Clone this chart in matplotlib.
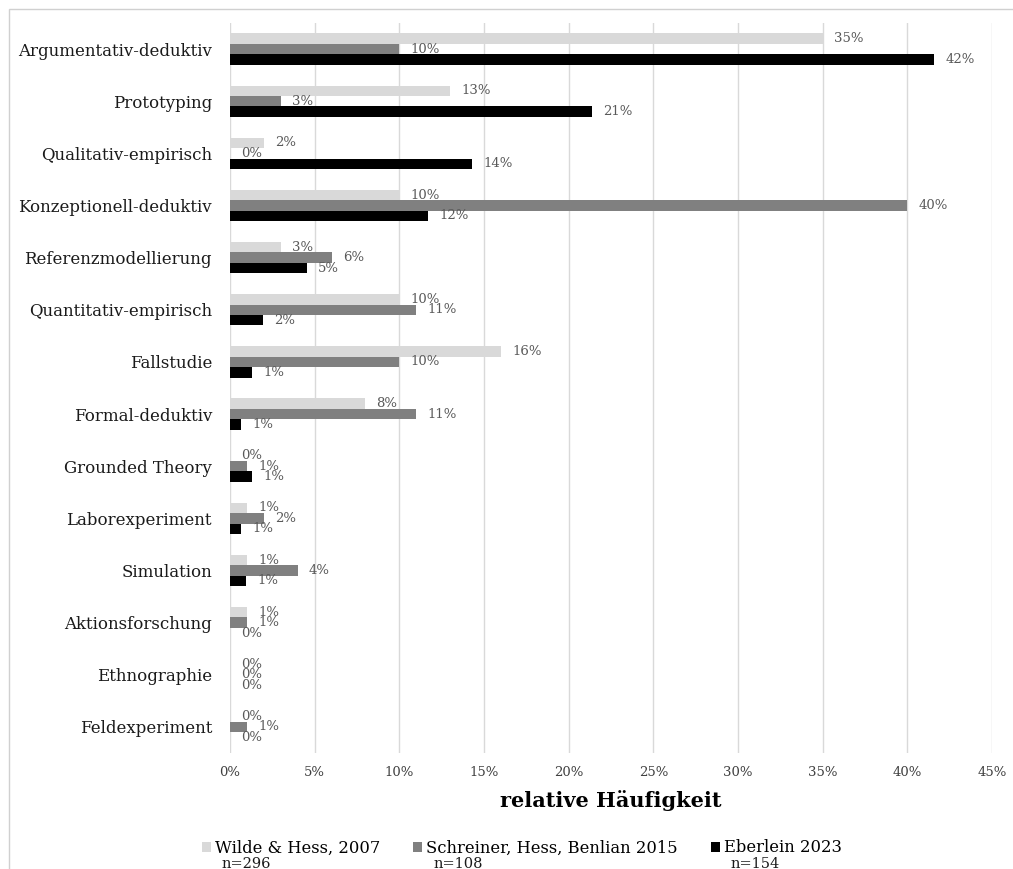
import matplotlib
matplotlib.use("Agg")
import matplotlib.pyplot as plt
from matplotlib.patches import Rectangle
import numpy as np

plt.rcParams["font.family"] = ["DejaVu Serif"]

categories = [
    "Argumentativ-deduktiv", "Prototyping", "Qualitativ-empirisch",
    "Konzeptionell-deduktiv", "Referenzmodellierung", "Quantitativ-empirisch",
    "Fallstudie", "Formal-deduktiv", "Grounded Theory", "Laborexperiment",
    "Simulation", "Aktionsforschung", "Ethnographie", "Feldexperiment",
]

# relative frequencies in percent
wilde_hess_2007 = [35, 13, 2, 10, 3, 10, 16, 8, 0, 1, 1, 1, 0, 0]
schreiner_2015 = [10, 3, 0, 40, 6, 11, 10, 11, 1, 2, 4, 1, 0, 1]
eberlein_2023 = [41.6, 21.4, 14.3, 11.7, 4.55, 1.95, 1.3, 0.65, 1.3, 0.65, 0.97, 0, 0, 0]

series_names = ["Wilde & Hess, 2007", "Schreiner, Hess, Benlian 2015", "Eberlein 2023"]
sample_sizes = ["n=296", "n=108", "n=154"]
x_ticks = [0, 5, 10, 15, 20, 25, 30, 35, 40, 45]
x_label = "relative Häufigkeit"

colors = ["#d9d9d9", "#808080", "#000000"]
label_color = "#595959"

fig = plt.figure(figsize=(10.13, 8.69), dpi=100)
ax = fig.add_axes([230 / 1013, 1 - 753 / 869, (992 - 230) / 1013, (753 - 23) / 869])

y = np.arange(len(categories))
bar_h = 0.2
offsets = [-bar_h, 0, bar_h]
all_series = [wilde_hess_2007, schreiner_2015, eberlein_2023]

for vals, off, col, name in zip(all_series, offsets, colors, series_names):
    bars = ax.barh(y + off, vals, height=bar_h, color=col, label=name,
                   edgecolor="none")
    ax.bar_label(bars, labels=[f"{v:.0f}%" for v in vals], padding=8,
                 fontsize=9.5, color=label_color)

ax.set_xlim(0, 45)
ax.set_ylim(len(categories) - 0.5, -0.5)
ax.set_xticks(x_ticks)
ax.set_xticklabels([f"{t}%" for t in x_ticks], fontsize=9.5, color="#404040")
ax.set_yticks(y)
ax.set_yticklabels(categories, fontsize=12, color="#1a1a1a")
ax.tick_params(axis="both", length=0)
ax.tick_params(axis="x", pad=9)
ax.tick_params(axis="y", pad=13)
ax.xaxis.grid(True, color="#d9d9d9", linewidth=1)
ax.set_axisbelow(True)
for s in ax.spines.values():
    s.set_visible(False)
ax.set_xlabel(x_label, fontsize=15, fontweight="bold", labelpad=8)

leg = fig.legend(loc="center", bbox_to_anchor=(0.515, 1 - 848 / 869), ncol=3,
                 frameon=False, fontsize=11.8, handlelength=0.55, handleheight=0.55,
                 handletextpad=0.25, columnspacing=2.0)

fig.canvas.draw()
inv = fig.transFigure.inverted()
for txt, n in zip(leg.get_texts(), sample_sizes):
    bb = txt.get_window_extent()
    x0, y0 = inv.transform((bb.x0 + 7, bb.y0 - 0.5))
    fig.text(x0, y0, n, fontsize=10.5, va="top", ha="left", color="#1a1a1a")

# outer frame
fig.patches.append(Rectangle((9 / 1013, -0.1), 1.2, 1 - 9 / 869 + 0.1,
                             transform=fig.transFigure, fill=False,
                             edgecolor="#d0d0d0", linewidth=1))

fig.savefig("out.png", dpi=100)
